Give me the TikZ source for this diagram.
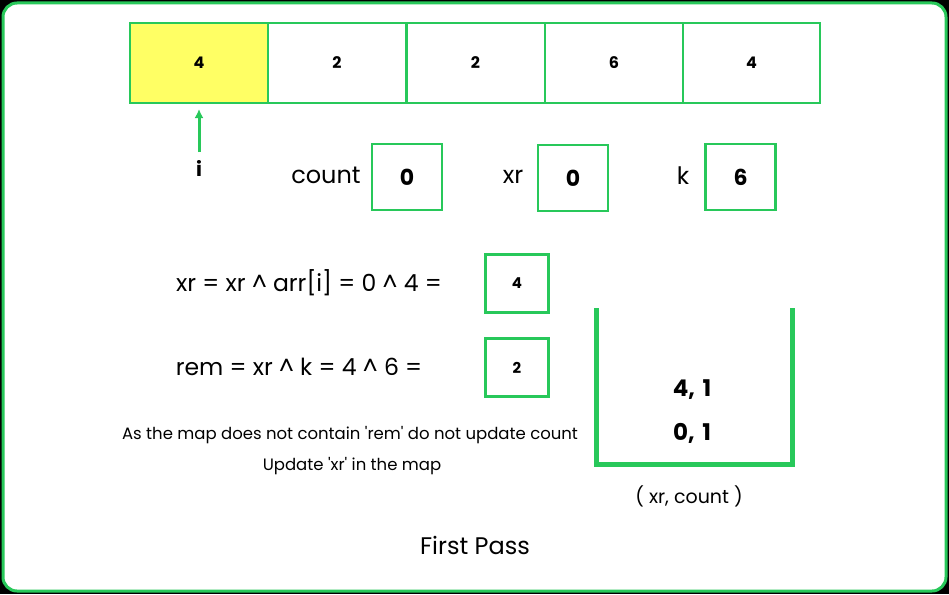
\documentclass[tikz,border=0pt]{standalone}
\usepackage{fontspec}
\setmainfont{Poppins}[Ligatures=TeXOff]
\usetikzlibrary{arrows.meta}
\definecolor{gr}{RGB}{40,200,90}
\definecolor{yl}{RGB}{255,255,100}
\begin{document}
\begin{tikzpicture}[x=1pt,y=-1pt,
  cell/.style={draw=gr,line width=2pt,minimum width=138pt,minimum height=80pt,inner sep=0pt,font=\bfseries\fontsize{16}{18}\selectfont},
  vbox/.style={draw=gr,line width=2.5pt,minimum width=70pt,minimum height=66pt,inner sep=0pt,font=\bfseries\fontsize{22}{24}\selectfont},
  sbox/.style={draw=gr,line width=2.5pt,minimum width=63pt,minimum height=58pt,inner sep=0pt,font=\bfseries\fontsize{15}{17}\selectfont},
  lbl/.style={font=\fontsize{24}{28}\selectfont},
  eq/.style={font=\fontsize{23.5}{27}\selectfont},
  sm/.style={font=\fontsize{16.5}{19}\selectfont},
  mp/.style={font=\bfseries\fontsize{23}{27}\selectfont}]
\fill[black] (0,0) rectangle (949,594);
\useasboundingbox (0,0) rectangle (949,594);
\draw[gr,line width=3pt,fill=white,rounded corners=14pt] (3,3) rectangle (946,591);
\node[cell,fill=yl] (c1) at (199,63) {4};
\node[cell] (c2) at (337,63) {2};
\node[cell] (c3) at (475.5,63) {2};
\node[cell] (c4) at (614,63) {6};
\node[cell,minimum width=137pt] (c5) at (751.5,63) {4};
\node[font=\bfseries\fontsize{20}{22}\selectfont] (i) at (199,168) {i};
\coordinate (ia) at (199,152);
\coordinate (ib) at (199,109);
\draw[gr,line width=3pt,-{Latex[length=9pt,width=9pt]}] (ia) -- (ib);
\node[lbl] (tc) at (326,175) {count};
\node[vbox] (bc) at (407,177) {0};
\node[lbl] (tx) at (513,177) {xr};
\node[vbox] (bx) at (573,178) {0};
\node[lbl] (tk) at (683,176) {k};
\node[vbox] (bk) at (740.5,177) {6};
\node[eq] (e1) at (309,283) {xr = xr \^{} arr[i] = 0 \^{} 4 =};
\node[sbox] (b1) at (517,283.5) {4};
\node[eq] (e2) at (299,367) {rem = xr \^{} k = 4 \^{} 6 =};
\node[sbox] (b2) at (517,367.5) {2};
\draw[gr,line width=5pt] (596,308) -- (596,464) -- (792,464) -- (792,308);
\node[mp] (m1) at (692,390) {4,\,\,1};
\node[mp] (m2) at (692,433) {0,\,\,1};
\node[sm] (s1) at (350,435) {As the map does not contain 'rem' do not update count};
\node[sm] (s2) at (352,466) {Update 'xr' in the map};
\node[font=\fontsize{19}{22}\selectfont] (cap) at (689,496) {( xr, count )};
\node[font=\fontsize{24}{28}\selectfont] (fp) at (475,545) {First Pass};
\end{tikzpicture}
\end{document}
